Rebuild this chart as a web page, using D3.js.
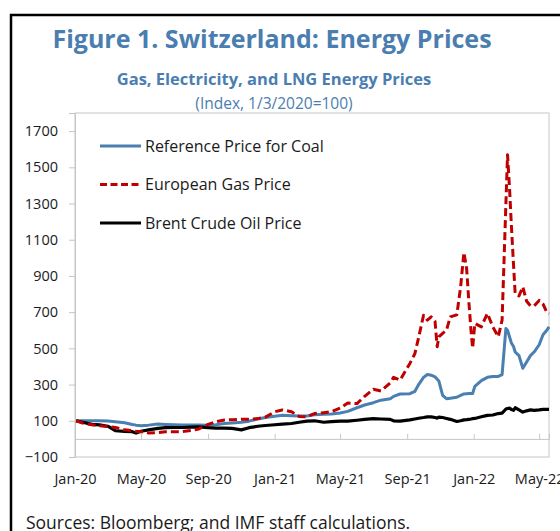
<!DOCTYPE html>
<html>
<head>
<meta charset="utf-8">
<script src="https://cdn.jsdelivr.net/npm/d3@7"></script>
<style>
  body { margin: 0; background: #fff; }
  svg { display: block; font-family: "Open Sans", "Noto Sans", sans-serif; }
</style>
</head>
<body>
<svg id="chart" width="560" height="531"></svg>
<script>
// dates (sampled roughly twice a month, weekly where prices move fast)
const dates = [
  "2020-01-03","2020-01-15","2020-02-01","2020-02-15","2020-03-01","2020-03-15","2020-04-01","2020-04-15","2020-04-22",
  "2020-05-01","2020-05-15","2020-06-01","2020-06-15","2020-07-01","2020-07-15","2020-08-01","2020-08-15",
  "2020-09-01","2020-09-15","2020-10-01","2020-10-15","2020-11-01","2020-11-15","2020-12-01","2020-12-15",
  "2021-01-01","2021-01-15","2021-02-01","2021-02-15","2021-03-01","2021-03-15","2021-04-01","2021-04-15",
  "2021-05-01","2021-05-15","2021-06-01","2021-06-15","2021-07-01","2021-07-15","2021-08-01","2021-08-07","2021-08-19",
  "2021-09-06","2021-09-15","2021-09-22","2021-10-01","2021-10-08","2021-10-15","2021-10-22","2021-10-26","2021-10-29",
  "2021-11-05","2021-11-12","2021-11-19","2021-12-01","2021-12-08","2021-12-14","2021-12-19","2021-12-23","2021-12-27","2021-12-30",
  "2022-01-03","2022-01-15","2022-01-26","2022-02-05","2022-02-15","2022-02-22","2022-03-01","2022-03-04","2022-03-08",
  "2022-03-11","2022-03-15","2022-03-18","2022-03-25","2022-04-01","2022-04-08","2022-04-15","2022-04-22",
  "2022-05-01","2022-05-08","2022-05-15","2022-05-19"
];

const coal = [
  100,100,100,100,99,95,89,80,76,
  73,76,82,80,78,77,77,77,
  76,78,85,88,92,98,110,118,
  125,130,128,126,127,133,136,137,
  143,152,172,187,200,214,222,235,248,
  250,262,300,340,356,352,343,330,320,
  240,222,225,230,240,248,250,251,251,251,
  290,322,340,345,345,355,610,600,560,
  530,510,480,460,390,425,460,481,
  520,575,600,619
];

const gas = [
  100,88,78,73,68,63,50,45,42,
  40,33,35,40,40,40,46,55,
  80,95,104,106,108,108,112,120,
  150,160,150,124,122,140,145,150,
  170,198,195,235,274,265,310,340,325,
  417,470,560,683,656,674,650,509,564,
  583,600,674,685,840,1030,940,760,600,501,
  638,619,693,619,564,656,1300,1570,1364,
  1180,960,800,790,840,760,735,735,
  765,745,700,690
];

const brent = [
  100,92,80,77,70,45,42,40,32,
  42,50,58,62,63,63,65,66,
  62,60,60,58,50,62,70,74,
  78,82,85,92,98,100,92,95,
  98,98,103,108,112,110,108,100,98,
  105,110,114,118,122,122,118,115,120,
  118,113,108,96,100,105,106,108,110,112,
  113,122,130,132,140,142,165,168,170,
  162,158,172,160,148,155,160,158,
  160,163,163,163
];

const seriesNames = ["Reference Price for Coal", "European Gas Price", "Brent Crude Oil Price"];
const yTicks = [-100, 100, 300, 500, 700, 900, 1100, 1300, 1500, 1700];

const parse = d3.timeParse("%Y-%m-%d");
const dateObjs = dates.map(parse);

const svg = d3.select("#chart");
const blue = "#4a7fb1";
const titleBlue = "#4a7eb0";

// outer frame (only the left and top edges are inside the picture)
svg.append("path")
  .attr("d", "M11,531 L11,15 L560,15")
  .attr("fill", "none")
  .attr("stroke", "#000")
  .attr("stroke-width", 2.5);

// titles
svg.append("text")
  .attr("x", 272).attr("y", 48)
  .attr("text-anchor", "middle")
  .attr("font-size", 25).attr("font-weight", "bold")
  .attr("fill", titleBlue)
  .text("Figure 1. Switzerland: Energy Prices");

svg.append("text")
  .attr("x", 274).attr("y", 85)
  .attr("text-anchor", "middle")
  .attr("font-size", 16.5).attr("font-weight", "bold")
  .attr("fill", titleBlue)
  .text("Gas, Electricity, and LNG Energy Prices");

svg.append("text")
  .attr("x", 274).attr("y", 109)
  .attr("text-anchor", "middle")
  .attr("font-size", 15.5)
  .attr("fill", titleBlue)
  .text("(Index, 1/3/2020=100)");

// plot area
const plotLeft = 75, plotRight = 549, plotTop = 113, plotBottom = 457;

const x = d3.scaleTime()
  .domain([new Date(2020, 0, 1), new Date(2022, 4, 19)])
  .range([plotLeft, plotRight]);

const y = d3.scaleLinear()
  .domain([-100, 1800])
  .range([plotBottom, plotTop]);

svg.append("rect")
  .attr("x", plotLeft).attr("y", plotTop)
  .attr("width", plotRight - plotLeft).attr("height", plotBottom - plotTop)
  .attr("fill", "none")
  .attr("stroke", "#c6c6c6")
  .attr("stroke-width", 1);

// y axis
const yAxis = svg.append("g")
  .attr("transform", `translate(${plotLeft},0)`)
  .call(d3.axisLeft(y).tickValues(yTicks).tickSize(6).tickPadding(11).tickFormat(d3.format("d")));
yAxis.select(".domain").attr("stroke", "#c6c6c6");
yAxis.selectAll(".tick line").attr("stroke", "#c6c6c6");
yAxis.selectAll(".tick text")
  .attr("font-size", 14.5)
  .attr("fill", "#1a1a1a")
  .attr("font-family", "'Open Sans', sans-serif");

// x axis on the zero line, ticks pointing up
const monthTicks = d3.timeMonth.every(4).range(new Date(2020, 0, 1), new Date(2022, 5, 1));
const xAxis = svg.append("g")
  .attr("transform", `translate(0,${y(0)})`)
  .call(d3.axisBottom(x).tickValues(monthTicks.slice(1)).tickSize(-5).tickFormat(""));
xAxis.select(".domain").attr("stroke", "#c6c6c6");
xAxis.selectAll(".tick line").attr("stroke", "#c6c6c6");

// x labels below the plot
const xLabels = svg.append("g")
  .attr("transform", `translate(0,${plotBottom})`)
  .call(d3.axisBottom(x).tickValues(monthTicks).tickSize(0).tickPadding(17).tickFormat(d3.timeFormat("%b-%y")));
xLabels.select(".domain").remove();
xLabels.selectAll(".tick text")
  .attr("font-size", 14.5)
  .attr("fill", "#1a1a1a")
  .attr("font-family", "'Open Sans', sans-serif");

// lines
const line = d3.line()
  .x((d, i) => x(dateObjs[i]))
  .y(d => y(d));

svg.append("path")
  .datum(coal)
  .attr("d", line)
  .attr("fill", "none")
  .attr("stroke", blue)
  .attr("stroke-width", 3)
  .attr("stroke-linejoin", "round");

svg.append("path")
  .datum(brent)
  .attr("d", line)
  .attr("fill", "none")
  .attr("stroke", "#000")
  .attr("stroke-width", 3.2)
  .attr("stroke-linejoin", "round");

svg.append("path")
  .datum(gas)
  .attr("d", line)
  .attr("fill", "none")
  .attr("stroke", "#c00000")
  .attr("stroke-width", 3)
  .attr("stroke-dasharray", "8,4")
  .attr("stroke-linejoin", "round");

// legend
const legendStyles = [
  { color: blue, dash: null, width: 3 },
  { color: "#c00000", dash: "7,3.5", width: 3 },
  { color: "#000", dash: null, width: 3.2 }
];
const legend = svg.append("g");
seriesNames.forEach((name, i) => {
  const ly = 146 + i * 38.5;
  legend.append("line")
    .attr("x1", 100).attr("x2", 141)
    .attr("y1", ly).attr("y2", ly)
    .attr("stroke", legendStyles[i].color)
    .attr("stroke-width", legendStyles[i].width)
    .attr("stroke-dasharray", legendStyles[i].dash);
  legend.append("text")
    .attr("x", 145).attr("y", ly)
    .attr("dy", "0.35em")
    .attr("font-size", 16)
    .attr("fill", "#1a1a1a")
    .text(name);
});

// source note
svg.append("text")
  .attr("x", 26).attr("y", 529)
  .attr("font-size", 17.5)
  .attr("fill", "#1a1a1a")
  .text("Sources: Bloomberg; and IMF staff calculations.");
</script>
</body>
</html>
